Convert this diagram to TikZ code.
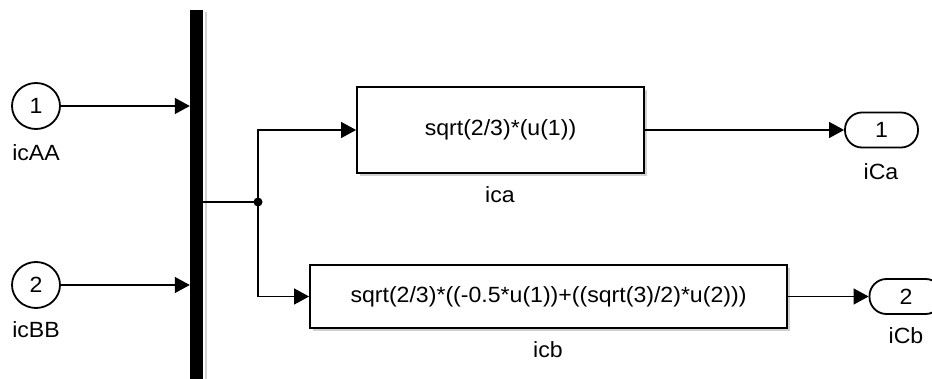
\documentclass[tikz,border=0pt]{standalone}
\usepackage{fontspec}
\setmainfont{Liberation Sans}[FakeStretch=1.05]
\usetikzlibrary{arrows.meta,shapes.geometric}
\begin{document}
\begin{tikzpicture}[x=1pt,y=-1pt,
  txt/.style={font=\fontsize{22}{24}\selectfont},
  inport/.style={ellipse,draw,line width=1.8pt,minimum width=48pt,minimum height=46pt,inner sep=0pt,txt},
  outport/.style={rectangle,rounded corners=17pt,draw,line width=1.8pt,minimum width=73pt,minimum height=35pt,inner sep=0pt,txt},
  fcn/.style={rectangle,draw,line width=1.8pt,inner sep=0pt,txt},
  lbl/.style={txt,inner sep=0pt},
  wire/.style={line width=1.3pt,-{Triangle[length=15pt,width=16pt]}},
  plain/.style={line width=1.3pt},
  shadowc/.style={fill=black!18}
]
\useasboundingbox (0,0) rectangle (932,379);
% shadows
\fill[shadowc] (205,12) rectangle (207,390);
\fill[shadowc] (360,173) rectangle (647,176);
\fill[shadowc] (644,90) rectangle (647,176);
\fill[shadowc] (313,328) rectangle (790,331);
\fill[shadowc] (787,268) rectangle (790,331);
% bar (mux)
\node[rectangle,fill=black,inner sep=0pt,minimum width=13pt,minimum height=380pt,anchor=north] (mux) at (196.5,10) {};
% inports
\node[inport] (in1) at (36,106) {1};
\node[lbl] (in1l) at (36,153) {icAA};
\node[inport] (in2) at (36,285) {2};
\node[lbl] (in2l) at (36,330) {icBB};
% function blocks
\node[fcn,minimum width=287pt,minimum height=86pt] (fa) at (500.5,130) {sqrt(2/3)*(u(1))};
\node[lbl] (fal) at (500,195) {ica};
\node[fcn,minimum width=477pt,minimum height=63pt] (fb) at (548.5,296.5) {sqrt(2/3)*((-0.5*u(1))+((sqrt(3)/2)*u(2)))};
\node[lbl] (fbl) at (548,350) {icb};
% outports
\node[outport] (out1) at (881.5,130) {1};
\node[lbl] (out1l) at (881,172) {iCa};
\node[outport] (out2) at (906,296.5) {2};
\node[lbl] (out2l) at (906,336) {iCb};
% junction
\coordinate (j) at (258,202);
% connectors
\draw[wire] (in1) -- (in1 -| mux.west);
\draw[wire] (in2) -- (in2 -| mux.west);
\draw[plain] (mux.east |- j) -- (j);
\fill (j) circle (4.5pt);
\draw[wire] (j) |- (fa.west);
\draw[wire] (j) |- (fb.west);
\draw[wire] (fa.east) -- (out1.west);
\draw[wire] (fb.east) -- (out2.west);
\end{tikzpicture}
\end{document}
